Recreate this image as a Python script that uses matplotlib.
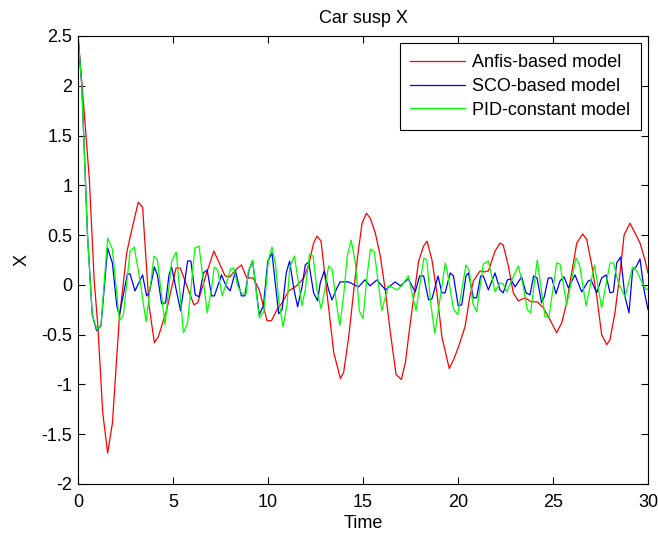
import matplotlib
matplotlib.use("Agg")
import matplotlib.pyplot as plt

plt.rcParams['font.family'] = ['Liberation Sans', 'DejaVu Sans']
plt.rcParams['axes.unicode_minus'] = False

# Anfis-based model (red)
anfis_t = [0, 0.3, 0.6, 0.85, 1.04, 1.3, 1.56, 1.81, 2.17, 2.56, 2.79, 3.17, 3.4, 3.74, 4.02,
           4.23, 4.67, 5.16, 5.38, 6.1, 6.3, 6.77, 7.15, 7.74, 7.98, 8.35, 8.6, 8.88, 9.22,
           9.54, 9.95, 10.18, 10.47, 10.74, 11.09, 11.35, 11.56, 11.88, 12.14, 12.4, 12.58,
           12.79, 13.46, 13.81, 13.98, 14.25, 14.54, 14.72, 14.95, 15.18, 15.38, 15.65, 15.91,
           16.17, 16.44, 16.74, 17.02, 17.23, 17.49, 17.75, 17.93, 18.19, 18.37, 18.63, 18.89,
           19.16, 19.54, 19.77, 20.03, 20.37, 20.63, 20.81, 21.16, 21.38, 21.6, 21.95, 22.21,
           22.38, 22.65, 22.91, 23.17, 23.53, 23.85, 24.17, 24.49, 24.84, 25.19, 25.46, 25.72,
           25.98, 26.25, 26.56, 26.77, 27.04, 27.3, 27.56, 27.83, 28.0, 28.26, 28.53, 28.74,
           29.05, 29.32, 29.58, 29.84, 30.0]
anfis_x = [2.5, 1.8, 1.05, 0.05, -0.4, -1.28, -1.69, -1.39, -0.35, 0.32, 0.52, 0.83, 0.78, -0.21,
           -0.58, -0.52, -0.25, 0.17, 0.17, -0.2, -0.18, 0.12, 0.34, 0.09, 0.08, 0.16, 0.2,
           0.07, 0.07, -0.05, -0.36, -0.36, -0.25, -0.18, -0.06, -0.03, 0.0, 0.07, 0.2, 0.42,
           0.49, 0.44, -0.68, -0.94, -0.88, -0.52, -0.01, 0.29, 0.62, 0.72, 0.67, 0.52, 0.29,
           -0.05, -0.48, -0.9, -0.95, -0.78, -0.38, -0.01, 0.24, 0.39, 0.44, 0.25, -0.08,
           -0.53, -0.84, -0.75, -0.62, -0.42, -0.11, 0.04, 0.14, 0.13, 0.14, 0.34, 0.42,
           0.4, 0.19, -0.08, -0.16, -0.13, -0.17, -0.17, -0.23, -0.35, -0.48, -0.38, -0.18,
           0.12, 0.42, 0.51, 0.46, 0.2, -0.11, -0.5, -0.6, -0.55, -0.28, 0.12, 0.5,
           0.62, 0.52, 0.42, 0.25, 0.12]

# SCO-based model (blue)
sco_t = [0, 0.2, 0.3, 0.5, 0.75, 0.98, 1.21, 1.56, 1.81, 2.04, 2.18, 2.6, 2.74, 3.0, 3.4, 3.61,
         3.75, 4.02, 4.18, 4.4, 4.61, 4.79, 4.93, 5.17, 5.4, 5.77, 5.94, 6.17, 6.37, 6.6,
         6.8, 7.03, 7.18, 7.55, 7.79, 8.01, 8.29, 8.6, 8.78, 9.0, 9.19, 9.54, 9.76, 9.99,
         10.21, 10.56, 10.74, 10.96, 11.14, 11.35, 11.56, 11.79, 11.96, 12.14, 12.4, 12.61,
         12.75, 12.96, 13.19, 13.37, 13.63, 13.8, 14.24, 14.76, 15.1, 15.37, 15.73, 16.19,
         16.69, 16.97, 17.38, 17.75, 17.98, 18.19, 18.45, 18.63, 18.95, 19.15, 19.32, 19.59,
         19.76, 20.01, 20.2, 20.42, 20.55, 20.81, 20.98, 21.19, 21.33, 21.6, 21.95, 22.21,
         22.38, 22.6, 22.77, 23.0, 23.35, 23.58, 23.79, 23.98, 24.16, 24.4, 24.54, 24.75,
         24.93, 25.16, 25.37, 25.58, 25.81, 26.16, 26.51, 26.86, 27.0, 27.3, 27.56, 27.79,
         28.0, 28.18, 28.35, 28.56, 28.79, 29.0, 29.19, 29.37, 29.58, 29.79, 30.0]
sco_x = [2.5, 2.0, 1.5, 0.5, -0.3, -0.46, -0.41, 0.37, 0.22, -0.21, -0.3, 0.11, 0.11, -0.06,
         0.1, -0.11, -0.08, 0.18, 0.1, -0.19, -0.18, 0.1, 0.18, -0.05, -0.26, 0.24, 0.24,
         -0.1, -0.12, 0.12, 0.15, -0.11, -0.11, 0.1, -0.01, -0.06, 0.14, -0.11, -0.11, 0.15,
         0.24, -0.3, -0.21, 0.24, 0.32, -0.29, -0.25, 0.12, 0.24, -0.03, -0.22, -0.02, 0.2,
         0.23, -0.08, -0.16, 0.02, 0.14, -0.05, -0.15, -0.03, 0.03, 0.03, -0.02, 0.05,
         -0.01, 0.05, -0.05, 0.03, -0.01, 0.06, -0.07, 0.09, 0.09, -0.15, -0.14, 0.09,
         -0.08, -0.08, 0.12, 0.09, -0.21, -0.2, 0.09, 0.12, -0.13, -0.13, 0.09, 0.09,
         -0.05, 0.12, -0.05, -0.08, 0.05, 0.06, -0.02, 0.08, -0.08, -0.1, 0.09, 0.07,
         -0.18, -0.12, 0.07, 0.07, -0.09, 0.04, 0.08, -0.03, 0.1, -0.07, 0.04, 0.05,
         -0.08, 0.07, 0.1, -0.08, -0.07, 0.22, 0.28, -0.12, -0.28, 0.15, 0.18, 0.26,
         -0.05, -0.25]

# PID-constant model (green)
pid_t = [0, 0.2, 0.3, 0.5, 0.75, 1.0, 1.21, 1.56, 1.81, 2.18, 2.39, 2.74, 2.96, 3.26, 3.58,
         4.0, 4.18, 4.58, 4.93, 5.17, 5.55, 5.77, 6.15, 6.37, 6.8, 7.03, 7.17, 7.35, 7.59,
         7.8, 8.03, 8.2, 8.4, 8.63, 8.85, 8.95, 9.19, 9.54, 9.78, 10.02, 10.21, 10.4, 10.56,
         10.79, 11.0, 11.14, 11.39, 11.58, 11.79, 11.96, 12.19, 12.37, 12.58, 12.79, 12.96,
         13.19, 13.37, 13.6, 13.78, 13.98, 14.17, 14.38, 14.6, 14.81, 15.0, 15.19, 15.39,
         15.6, 15.99, 16.33, 16.6, 16.78, 17.04, 17.38, 17.79, 18.2, 18.36, 18.56, 18.78,
         19.03, 19.33, 19.42, 19.76, 19.98, 20.42, 20.6, 20.77, 20.98, 21.33, 21.6, 21.95,
         22.21, 22.38, 22.56, 22.95, 23.17, 23.4, 23.65, 23.82, 24.17, 24.58, 24.79, 25.19,
         25.37, 25.72, 26.21, 26.4, 26.74, 27.18, 27.56, 28.0, 28.18, 28.44, 28.79, 29.19,
         29.4, 29.75, 29.93, 30.0]
pid_x = [2.5, 2.0, 1.5, 0.5, -0.3, -0.45, -0.4, 0.47, 0.36, -0.36, -0.3, 0.34, 0.38, 0.05,
         -0.37, 0.29, 0.25, -0.4, 0.24, 0.33, -0.48, -0.38, 0.37, 0.39, -0.28, -0.04, 0.18,
         0.15, -0.11, 0.01, 0.16, 0.17, -0.01, -0.09, -0.09, 0.12, 0.25, -0.33, -0.27, 0.25,
         0.38, 0.2, -0.15, -0.42, -0.2, 0.17, 0.29, 0.05, -0.21, -0.05, 0.31, 0.29, -0.05,
         -0.24, -0.08, 0.19, 0.16, -0.18, -0.41, -0.11, 0.29, 0.45, 0.22, -0.26, -0.34,
         0.05, 0.36, 0.33, -0.26, -0.01, -0.03, -0.05, -0.01, 0.09, -0.26, 0.27, 0.25,
         -0.18, -0.49, -0.17, 0.22, 0.15, -0.24, -0.3, 0.2, 0.14, -0.18, -0.27, 0.21,
         0.24, -0.07, 0.02, 0.01, -0.07, 0.1, 0.19, 0.02, -0.25, -0.28, 0.25, -0.32,
         -0.32, 0.22, 0.21, -0.2, 0.27, 0.2, -0.21, 0.2, -0.23, 0.22, 0.22, 0.02, -0.12,
         0.18, 0.14, 0.0, -0.05, -0.04]

series_labels = ["Anfis-based model", "SCO-based model", "PID-constant model"]
x_ticks = [0, 5, 10, 15, 20, 25, 30]
y_ticks = [-2, -1.5, -1, -0.5, 0, 0.5, 1, 1.5, 2, 2.5]
y_tick_labels = ["-2", "-1.5", "-1", "-0.5", "0", "0.5", "1", "1.5", "2", "2.5"]

fig = plt.figure(figsize=(6.58, 5.33), dpi=100)
ax = fig.add_axes([78/658, 1 - 484/533, 570/658, 448/533])

ax.plot(anfis_t, anfis_x, color='#ff0000', lw=0.9, label=series_labels[0])
ax.plot(sco_t, sco_x, color='#0000ff', lw=0.9, label=series_labels[1])
ax.plot(pid_t, pid_x, color='#00ff00', lw=0.9, label=series_labels[2])

ax.set_xlim(0, 30)
ax.set_ylim(-2, 2.5)
ax.set_xticks(x_ticks)
ax.set_yticks(y_ticks)
ax.set_yticklabels(y_tick_labels)
ax.tick_params(direction='in', top=True, right=True, labelsize=13, length=5, width=0.8)
ax.tick_params(axis='x', pad=7)
ax.tick_params(axis='y', pad=4)
for s in ax.spines.values():
    s.set_linewidth(0.8)
ax.set_title("Car susp X", fontsize=13, pad=9)
ax.set_xlabel("Time", fontsize=13, labelpad=3)
ax.set_ylabel("X", fontsize=13, labelpad=8)

leg = ax.legend(loc='upper right', fontsize=13, frameon=True, fancybox=False,
                edgecolor='black', framealpha=1, borderaxespad=0.4,
                handlelength=3.0, handletextpad=0.4, labelspacing=0.38, borderpad=0.6)
leg.get_frame().set_linewidth(0.8)

fig.savefig("out.png", dpi=100)
